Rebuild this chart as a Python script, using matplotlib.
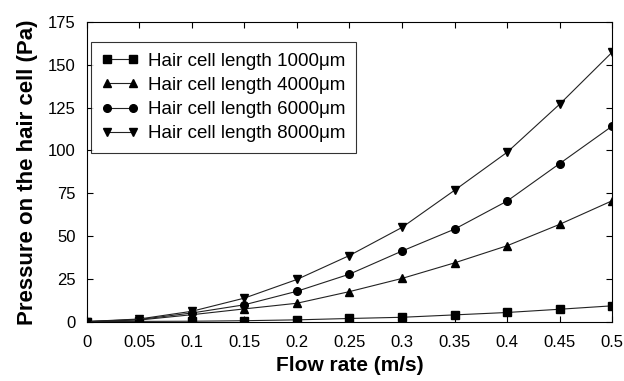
import matplotlib
matplotlib.use('Agg')
import matplotlib.pyplot as plt

plt.rcParams['font.family'] = ['Liberation Sans', 'DejaVu Sans']

# flow rate (m/s)
flow = [0, 0.05, 0.1, 0.15, 0.2, 0.25, 0.3, 0.35, 0.4, 0.45, 0.5]
# pressure on the hair cell (Pa) for each hair cell length
p1000 = [0, 0.1, 0.2, 0.5, 1.0, 1.8, 2.5, 3.9, 5.3, 7.2, 9.2]
p4000 = [0, 0.9, 4.0, 7.4, 10.7, 17.5, 25.2, 34.3, 44.3, 56.8, 70.6]
p6000 = [0, 1.2, 5.0, 9.8, 17.7, 27.7, 41.2, 54.0, 70.4, 92.3, 114.2]
p8000 = [0, 1.5, 6.0, 13.7, 24.6, 38.6, 55.0, 76.7, 98.9, 127.0, 157.4]
labels = ['Hair cell length 1000\u03bcm', 'Hair cell length 4000\u03bcm',
          'Hair cell length 6000\u03bcm', 'Hair cell length 8000\u03bcm']
markers = ['s', '^', 'o', 'v']

fig = plt.figure(figsize=(6.24, 3.81), dpi=100)
ax = fig.add_axes([0.139, 0.156, 0.842, 0.786])

for p, lab, m in zip([p1000, p4000, p6000, p8000], labels, markers):
    ax.plot(flow, p, color='#222222', lw=0.8, marker=m, markersize=5.5,
            markerfacecolor='black', markeredgecolor='black', label=lab)

ax.set_xlim(0, 0.5)
ax.set_ylim(0, 175)
ax.set_xticks([0, 0.05, 0.1, 0.15, 0.2, 0.25, 0.3, 0.35, 0.4, 0.45, 0.5])
ax.set_xticklabels(['0', '0.05', '0.1', '0.15', '0.2', '0.25', '0.3', '0.35', '0.4', '0.45', '0.5'])
ax.set_yticks(range(0, 176, 25))
ax.tick_params(direction='in', top=True, right=True, labelsize=12, length=4, width=0.8)
ax.tick_params(axis='x', pad=10)
ax.tick_params(axis='y', pad=8)
for s in ax.spines.values():
    s.set_linewidth(0.8)

ax.set_xlabel('Flow rate (m/s)', fontsize=15, fontweight='bold', labelpad=4)
ax.set_ylabel('Pressure on the hair cell (Pa)', fontsize=16, fontweight='bold', labelpad=7)

leg = ax.legend(loc='upper left', bbox_to_anchor=(0.008, 0.933), numpoints=2,
                fontsize=13.5, frameon=True, fancybox=False, edgecolor='black',
                handlelength=2.0, labelspacing=0.38, borderpad=0.55, handletextpad=0.5,
                borderaxespad=0)
leg.get_frame().set_linewidth(0.8)

plt.savefig('out.png', dpi=100)
